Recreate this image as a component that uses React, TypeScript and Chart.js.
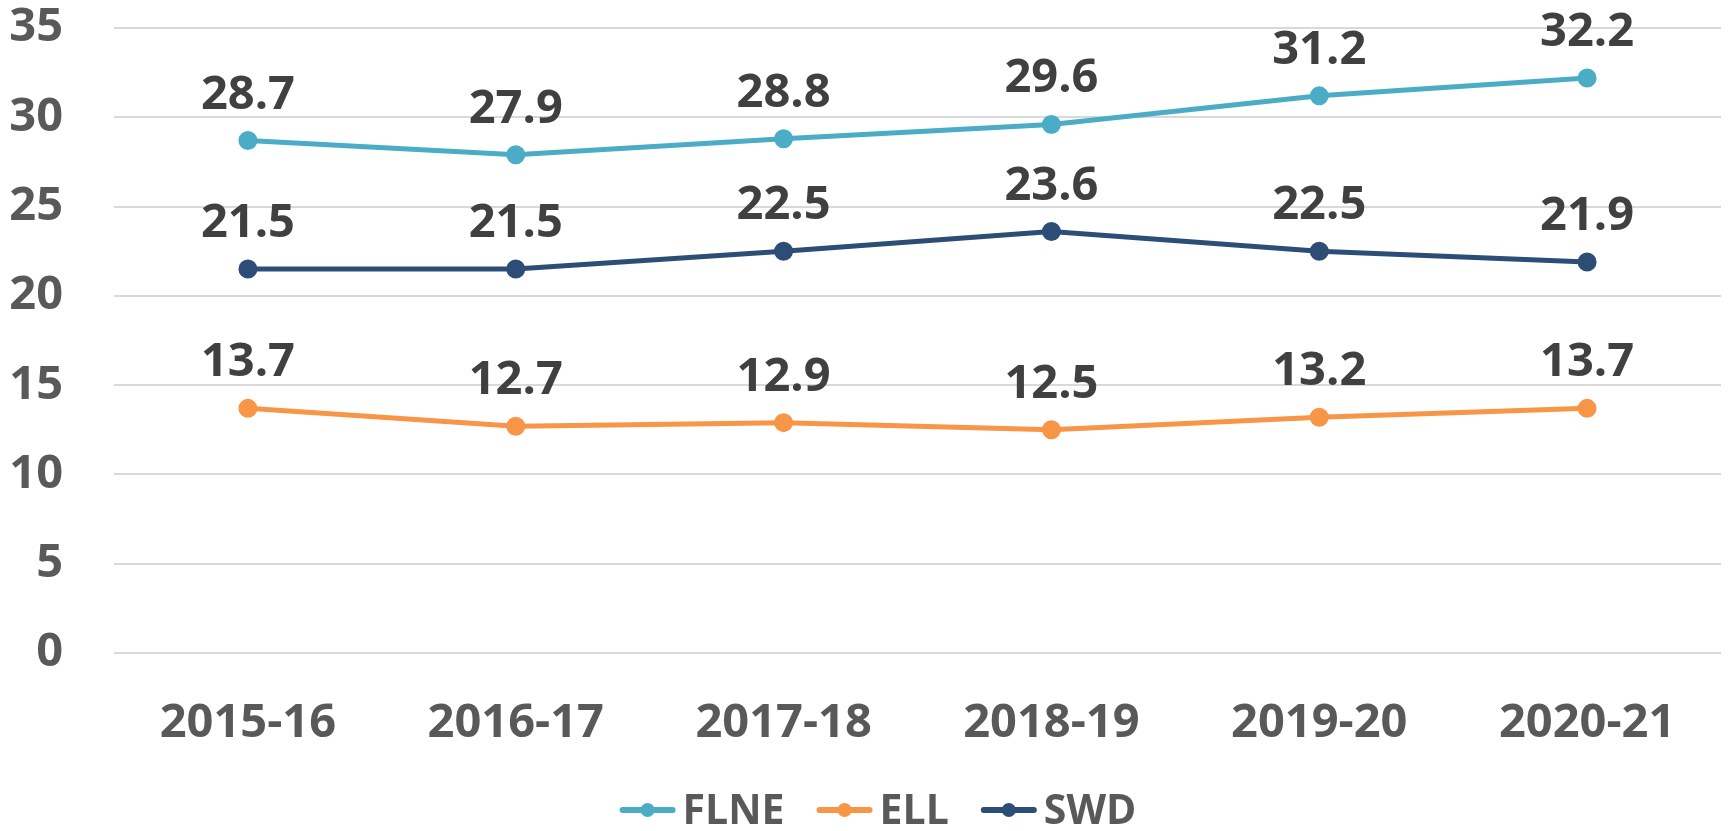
import React, { useEffect, useRef } from "react";
import { Chart, registerables } from "chart.js";

Chart.register(...registerables);

const categories = ["2015-16", "2016-17", "2017-18", "2018-19", "2019-20", "2020-21"];
const seriesNames = ["FLNE", "ELL", "SWD"];
const flneValues = [28.7, 27.9, 28.8, 29.6, 31.2, 32.2];
const ellValues = [13.7, 12.7, 12.9, 12.5, 13.2, 13.7];
const swdValues = [21.5, 21.5, 22.5, 23.6, 22.5, 21.9];
const seriesColors = ["#4BACC6", "#F79646", "#2C4D75"];
const yTicks = [0, 5, 10, 15, 20, 25, 30, 35];

const FONT = "'Open Sans', sans-serif";

const dataLabelPlugin = {
  id: "dataLabels",
  afterDatasetsDraw(chart: any) {
    const ctx = chart.ctx;
    ctx.save();
    ctx.font = `bold 47px ${FONT}`;
    ctx.fillStyle = "#404040";
    ctx.textAlign = "center";
    ctx.textBaseline = "alphabetic";
    chart.data.datasets.forEach((ds: any, i: number) => {
      const meta = chart.getDatasetMeta(i);
      meta.data.forEach((pt: any, j: number) => {
        ctx.fillText(String(ds.data[j].toFixed(1)), pt.x, pt.y - 32);
      });
    });
    ctx.restore();
  },
};

const legendPlugin = {
  id: "customLegend",
  afterDraw(chart: any) {
    const ctx = chart.ctx;
    ctx.save();
    ctx.font = `bold 41px ${FONT}`;
    const lineW = 56;
    const gapText = 7;
    const gapItem = 32;
    const items = chart.data.datasets.map((ds: any) => ({
      label: ds.label,
      color: ds.borderColor,
      w: lineW + gapText + ctx.measureText(ds.label).width,
    }));
    const total = items.reduce((s: number, it: any) => s + it.w, 0) + gapItem * (items.length - 1);
    let x = 878 - total / 2;
    const y = 810;
    items.forEach((it: any) => {
      ctx.strokeStyle = it.color;
      ctx.lineWidth = 6;
      ctx.lineCap = "round";
      ctx.beginPath();
      ctx.moveTo(x + 3, y);
      ctx.lineTo(x + lineW - 3, y);
      ctx.stroke();
      ctx.fillStyle = it.color;
      ctx.beginPath();
      ctx.arc(x + lineW / 2, y, 7, 0, Math.PI * 2);
      ctx.fill();
      ctx.fillStyle = "#595959";
      ctx.textAlign = "left";
      ctx.textBaseline = "alphabetic";
      ctx.fillText(it.label, x + lineW + gapText, 824);
      x += it.w + gapItem;
    });
    ctx.restore();
  },
};

export default function App() {
  const ref = useRef<HTMLCanvasElement | null>(null);
  useEffect(() => {
    if (!ref.current) return;
    const values = [flneValues, ellValues, swdValues];
    const chart = new Chart(ref.current, {
      type: "line",
      data: {
        labels: categories,
        datasets: seriesNames.map((name, i) => ({
          label: name,
          data: values[i],
          borderColor: seriesColors[i],
          backgroundColor: seriesColors[i],
          pointBackgroundColor: seriesColors[i],
          pointBorderColor: seriesColors[i],
          borderWidth: 5,
          pointRadius: 7,
          pointHoverRadius: 7,
          tension: 0,
          fill: false,
        })),
      },
      options: {
        animation: false,
        responsive: false,
        maintainAspectRatio: false,
        layout: { padding: { top: 28, right: 5, bottom: 78, left: 0 } },
        plugins: {
          legend: { display: false },
          tooltip: { enabled: false },
        },
        scales: {
          x: {
            offset: true,
            grid: { display: false, drawTicks: false },
            border: { display: false },
            ticks: {
              font: { family: FONT, size: 47, weight: "bold" },
              color: "#595959",
              padding: 42,
              maxRotation: 0,
              autoSkip: false,
            },
            afterFit: (s: any) => {
              s.height = 100;
              s.paddingLeft = 0;
              s.paddingRight = 0;
            },
          },
          y: {
            min: 0,
            max: 35,
            afterBuildTicks: (s: any) => {
              s.ticks = yTicks.map((v) => ({ value: v }));
            },
            grid: { color: "#D9D9D9", lineWidth: 2, drawTicks: false },
            border: { display: false },
            ticks: {
              font: { family: FONT, size: 47, weight: "bold" },
              color: "#595959",
              padding: 51,
            },
            afterFit: (s: any) => {
              s.width = 114;
              s.paddingTop = 0;
              s.paddingBottom = 0;
            },
          },
        },
      },
      plugins: [dataLabelPlugin, legendPlugin],
    });
    return () => chart.destroy();
  }, []);
  return (
    <div style={{ position: "fixed", left: 0, top: 0, width: 1733, height: 831, background: "#fff" }}>
      <canvas ref={ref} width={1733} height={831} style={{ width: 1733, height: 831 }} />
    </div>
  );
}
